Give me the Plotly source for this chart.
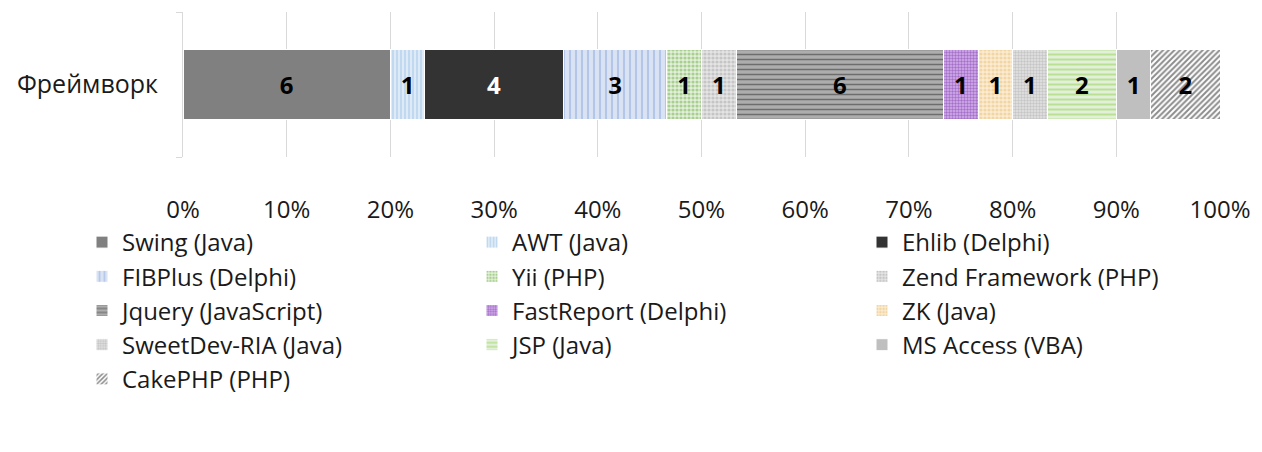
import plotly.graph_objects as go

category = ["Фреймворк"]
names = ["Swing (Java)", "AWT (Java)", "Ehlib (Delphi)", "FIBPlus (Delphi)", "Yii (PHP)",
         "Zend Framework (PHP)", "Jquery (JavaScript)", "FastReport (Delphi)", "ZK (Java)",
         "SweetDev-RIA (Java)", "JSP (Java)", "MS Access (VBA)", "CakePHP (PHP)"]
values = [6, 1, 4, 3, 1, 1, 6, 1, 1, 1, 2, 1, 2]
tick_vals = [0, 10, 20, 30, 40, 50, 60, 70, 80, 90, 100]
tick_labels = ["0%", "10%", "20%", "30%", "40%", "50%", "60%", "70%", "80%", "90%", "100%"]

FONT = "Open Sans"

# style per series: (shape, fg, bg, size, solidity, textcolor)
styles = [
    ("", "#808080", "#808080", 8, 0.3, "black"),
    ("|", "#9DC3E6", "#DEEBF7", 4, 0.45, "black"),
    ("", "#333333", "#333333", 8, 0.3, "white"),
    ("|", "#8EA9DB", "#DAE3F3", 6, 0.35, "black"),
    (".", "#70AD47", "#E2F0D9", 4, 0.5, "black"),
    (".", "#A6A6A6", "#E4E4E4", 4, 0.5, "black"),
    ("-", "#2E2E2E", "#ADADAD", 5, 0.3, "black"),
    (".", "#7030A0", "#D6B0EE", 3, 0.5, "black"),
    (".", "#E6C27A", "#FBEBD0", 4, 0.5, "black"),
    (".", "#A6A6A6", "#E4E4E4", 3, 0.5, "black"),
    ("-", "#92D050", "#E2F0D9", 5, 0.4, "black"),
    ("", "#BFBFBF", "#BFBFBF", 8, 0.3, "black"),
    ("/", "#1A1A1A", "#FFFFFF", 4, 0.5, "black"),
]

fig = go.Figure()
for name, v, st in zip(names, values, styles):
    shape, fg, bg, size, sol, tc = st
    marker = dict(color=bg, line=dict(color="white", width=1))
    if shape:
        marker["pattern"] = dict(shape=shape, fgcolor=fg, bgcolor=bg, size=size,
                                 solidity=sol, fillmode="overlay")
    else:
        marker["color"] = fg
    fig.add_trace(go.Bar(
        y=category, x=[v], name=name, orientation="h", marker=marker,
        text=[str(v)], textposition="inside", insidetextanchor="middle", textangle=0,
        textfont=dict(family=FONT, size=24, color=tc, weight="bold"),
        constraintext="none", hoverinfo="name+x",
    ))

# page has an 8px body margin, so the figure is laid out 8px smaller
W, H = 1254, 444
L, R, T, B = 175, 42, 4, 295
pw, ph = W - L - R, H - T - B

fig.update_layout(
    width=W, height=H,
    barmode="stack", barnorm="percent", bargap=0.52,
    paper_bgcolor="white", plot_bgcolor="white",
    margin=dict(l=L, r=R, t=T, b=B, autoexpand=False),
    font=dict(family=FONT, size=22, color="#1a1a1a"),
    showlegend=True,
    legend=dict(orientation="h", traceorder="normal",
                xref="paper", yref="paper",
                x=(74 - L) / pw, y=((H - B) - 212) / ph,
                xanchor="left", yanchor="top",
                entrywidth=345, entrywidthmode="pixels",
                font=dict(family=FONT, size=24, color="#1a1a1a"),
                itemwidth=30),
    xaxis=dict(range=[0, 100], tickmode="array", tickvals=tick_vals, ticktext=tick_labels,
               showgrid=True, gridcolor="#D9D9D9", gridwidth=1,
               zeroline=False, showline=False, ticks="", automargin=False,
               ticklabelstandoff=36,
               tickfont=dict(family=FONT, size=24, color="#1a1a1a")),
    yaxis=dict(showline=True, linecolor="#D9D9D9", linewidth=1, automargin=False,
               ticks="outside", tickson="boundaries", ticklen=6, tickcolor="#D9D9D9",
               ticklabelstandoff=19,
               tickfont=dict(family=FONT, size=25, color="#1a1a1a")),
)

fig.write_html("out.html")
